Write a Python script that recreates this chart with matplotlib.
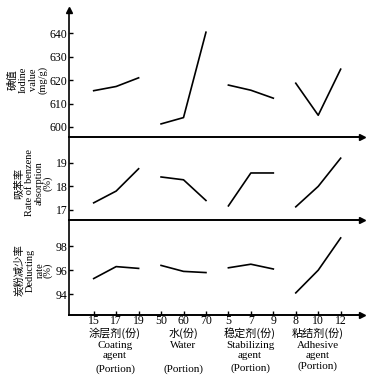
import matplotlib
matplotlib.use('Agg')
import matplotlib.pyplot as plt

# x tick labels, grouped by factor
tick_labels = ['15', '17', '19', '50', '60', '70', '5', '7', '9', '8', '10', '12']
groups = [[0, 1, 2], [3, 4, 5], [6, 7, 8], [9, 10, 11]]

group_cn = ['涂层剂(份)', '水(份)', '稳定剂(份)', '粘结剂(份)']
group_en = [['Coating', 'agent', '(Portion)'],
            ['Water', '(Portion)'],
            ['Stabilizing', 'agent', '(Portion)'],
            ['Adhesive', 'agent', '(Portion)']]

iodine = [615.5, 617.3, 621.0, 601.3, 604.0, 640.5, 617.9, 615.7, 612.3, 618.7, 605.0, 624.7]
benzene = [17.3, 17.8, 18.75, 18.4, 18.28, 17.4, 17.17, 18.57, 18.57, 17.13, 18.0, 19.2]
deduct = [95.3, 96.3, 96.15, 96.4, 95.9, 95.8, 96.2, 96.5, 96.1, 94.1, 96.0, 98.7]

iodine_ticks = [600, 610, 620, 630, 640]
benzene_ticks = [17, 18, 19]
deduct_ticks = [94, 96, 98]

SERIF = ['Liberation Serif', 'Noto Sans CJK SC']
CJK = ['Noto Sans CJK SC']

W, H = 380, 384
fig = plt.figure(figsize=(3.8, 3.84), dpi=100)


def px_axes(x0, y_top, x1, y_bot):
    return fig.add_axes([x0 / W, 1 - y_bot / H, (x1 - x0) / W, (y_bot - y_top) / H])


ax1 = px_axes(69, 10, 362, 137)
ax2 = px_axes(69, 137, 362, 220)
ax3 = px_axes(69, 220, 362, 315)

panels = [(ax1, iodine, iodine_ticks, (595.7, 650.0)),
          (ax2, benzene, benzene_ticks, (16.57, 20.1)),
          (ax3, deduct, deduct_ticks, (92.25, 100.2))]

for ax, vals, yt, ylim in panels:
    for g in groups:
        ax.plot(g, [vals[i] for i in g], color='black', lw=1.2)
    ax.set_xlim(-1.1, 11.95)
    ax.set_ylim(*ylim)
    ax.set_yticks(yt)
    ax.set_yticklabels([str(v) for v in yt], family=SERIF, fontsize=8.5)
    ax.tick_params(axis='y', direction='in', length=3, width=1, pad=1)
    for s in ['top', 'right']:
        ax.spines[s].set_visible(False)
    ax.spines['left'].set_linewidth(1.2)
    ax.spines['bottom'].set_linewidth(1.4)
    ax.patch.set_alpha(0)
    ax.plot(1, 0, marker='>', color='black', ms=5, transform=ax.transAxes, clip_on=False)

for ax in (ax1, ax2):
    ax.set_xticks([])

ax3.set_xticks(range(len(tick_labels)))
ax3.set_xticklabels(tick_labels, family=SERIF, fontsize=8.5)
ax3.tick_params(axis='x', direction='in', length=3, width=1, pad=0)

ax1.plot(0, 1, marker='^', color='black', ms=5, transform=ax1.transAxes, clip_on=False)

# y axis labels (rotated columns)
ylabels = [
    (80, [('碘值', CJK, 13), ('Iodine', SERIF, 23), ('value', SERIF, 33), ('(mg/g)', SERIF, 43)]),
    (183, [('吸苯率', CJK, 19), ('Rate of benzene', SERIF, 29), ('absorption', SERIF, 39), ('(%)', SERIF, 48)]),
    (270, [('炭粉减少率', CJK, 19), ('Deducting', SERIF, 30), ('rate', SERIF, 40), ('(%)', SERIF, 48)]),
]
for yc, cols in ylabels:
    for txt, fam, xc in cols:
        fig.text(xc / W, 1 - yc / H, txt, rotation=90, ha='center', va='center',
                 family=fam, fontsize=7.5)

# group labels under x axis
centers = [115, 183, 250, 318]
cn_y = [333, 333, 333, 333]
en_rows = [[346, 356, 369], [346, 369], [346, 356, 368], [345, 355, 366]]
for k in range(4):
    fig.text(centers[k] / W, 1 - cn_y[k] / H, group_cn[k], ha='center', va='center',
             family=CJK, fontsize=8)
    for txt, yy in zip(group_en[k], en_rows[k]):
        fig.text(centers[k] / W, 1 - yy / H, txt, ha='center', va='center',
                 family=SERIF, fontsize=8)

fig.savefig('out.png', dpi=100)
